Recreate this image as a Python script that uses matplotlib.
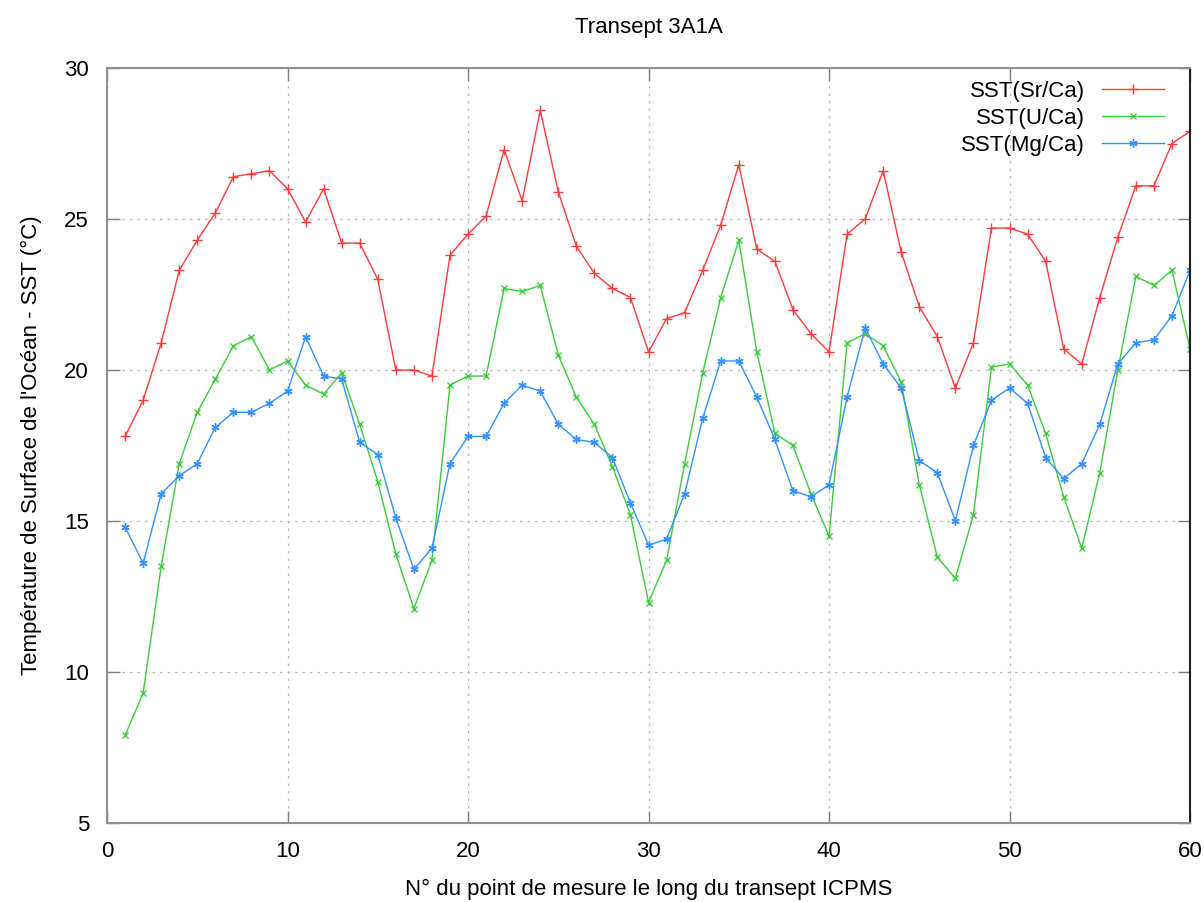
import matplotlib
matplotlib.use('Agg')
import matplotlib.pyplot as plt

plt.rcParams['font.family'] = ['Liberation Sans', 'DejaVu Sans']

# numéro du point de mesure
points = list(range(1, 61))

sst_sr_ca = [17.8, 19.0, 20.9, 23.3, 24.3, 25.2, 26.4, 26.5, 26.6, 26.0,
             24.9, 26.0, 24.2, 24.2, 23.0, 20.0, 20.0, 19.8, 23.8, 24.5,
             25.1, 27.3, 25.6, 28.6, 25.9, 24.1, 23.2, 22.7, 22.4, 20.6,
             21.7, 21.9, 23.3, 24.8, 26.8, 24.0, 23.6, 22.0, 21.2, 20.6,
             24.5, 25.0, 26.6, 23.9, 22.1, 21.1, 19.4, 20.9, 24.7, 24.7,
             24.5, 23.6, 20.7, 20.2, 22.4, 24.4, 26.1, 26.1, 27.5, 27.9]

sst_u_ca = [7.9, 9.3, 13.5, 16.9, 18.6, 19.7, 20.8, 21.1, 20.0, 20.3,
            19.5, 19.2, 19.9, 18.2, 16.3, 13.9, 12.1, 13.7, 19.5, 19.8,
            19.8, 22.7, 22.6, 22.8, 20.5, 19.1, 18.2, 16.8, 15.2, 12.3,
            13.7, 16.9, 19.9, 22.4, 24.3, 20.6, 17.9, 17.5, 15.9, 14.5,
            20.9, 21.2, 20.8, 19.6, 16.2, 13.8, 13.1, 15.2, 20.1, 20.2,
            19.5, 17.9, 15.8, 14.1, 16.6, 20.0, 23.1, 22.8, 23.3, 20.7]

sst_mg_ca = [14.8, 13.6, 15.9, 16.5, 16.9, 18.1, 18.6, 18.6, 18.9, 19.3,
             21.1, 19.8, 19.7, 17.6, 17.2, 15.1, 13.4, 14.1, 16.9, 17.8,
             17.8, 18.9, 19.5, 19.3, 18.2, 17.7, 17.6, 17.1, 15.6, 14.2,
             14.4, 15.9, 18.4, 20.3, 20.3, 19.1, 17.7, 16.0, 15.8, 16.2,
             19.1, 21.4, 20.2, 19.4, 17.0, 16.6, 15.0, 17.5, 19.0, 19.4,
             18.9, 17.1, 16.4, 16.9, 18.2, 20.2, 20.9, 21.0, 21.8, 23.3]

x_ticks = [0, 10, 20, 30, 40, 50, 60]
y_ticks = [5, 10, 15, 20, 25, 30]

fig = plt.figure(figsize=(12.04, 9.02), dpi=100)
ax = fig.add_axes([0.0889, 0.0876, 0.8995, 0.837])

ax.plot(points, sst_sr_ca, color='#ff3b3b', lw=1, marker='+', ms=7, mew=1,
        label='SST(Sr/Ca)')
ax.plot(points, sst_u_ca, color='#3ccc3c', lw=1, marker='x', ms=5, mew=1,
        label='SST(U/Ca)')
ax.plot(points, sst_mg_ca, color='#3392ff', lw=1, marker=(6, 2, 0), ms=6, mew=1,
        label='SST(Mg/Ca)')

ax.set_xlim(0, 60)
ax.set_ylim(5, 30)
ax.set_xticks(x_ticks)
ax.set_yticks(y_ticks)
ax.tick_params(direction='in', length=9, width=1, color='#808080',
               top=True, right=True, labelsize=16, pad=13)
ax.grid(True, color='#b8b8b8', linestyle=(0, (2, 4)), linewidth=0.9)

for side in ['left', 'bottom', 'top']:
    ax.spines[side].set_color('#909090')
    ax.spines[side].set_linewidth(1.5)
ax.spines['right'].set_color('#202020')
ax.spines['right'].set_linewidth(1.5)

ax.set_title('Transept 3A1A', fontsize=16, pad=25)
ax.set_xlabel('N° du point de mesure le long du transept ICPMS', fontsize=16,
              labelpad=12)
ax.set_ylabel("Température de Surface de l'Océan - SST (°C)", fontsize=16,
              labelpad=16)

ax.legend(loc='upper right', bbox_to_anchor=(0.976, 0.983), frameon=False,
          markerfirst=False, fontsize=16, labelspacing=0.27, handlelength=2.8,
          handletextpad=0.75, borderpad=0, borderaxespad=0)

fig.savefig('out.png', dpi=100)
